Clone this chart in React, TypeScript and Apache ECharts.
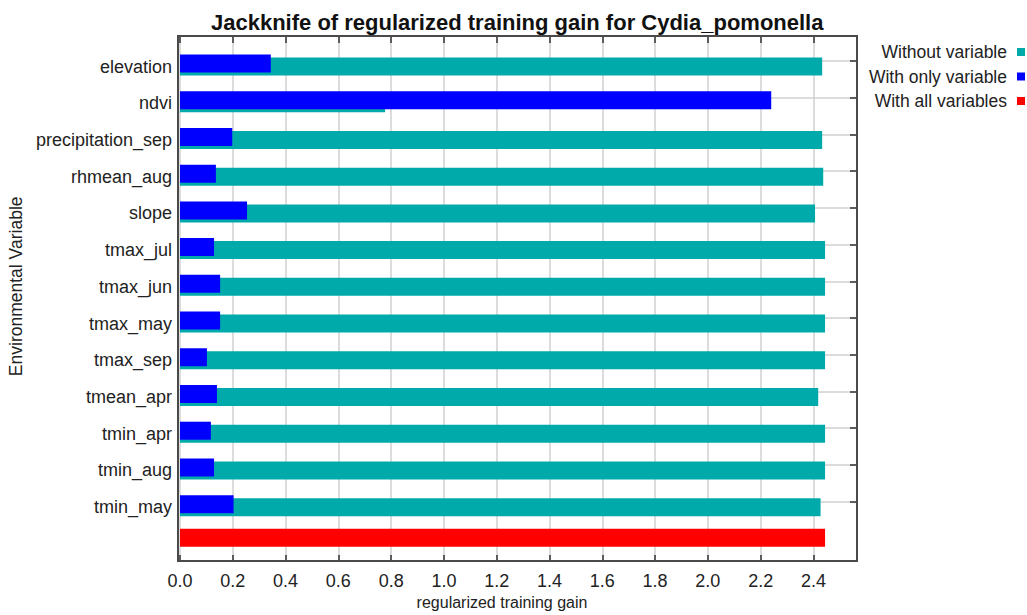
import React, { useEffect, useRef } from "react";
import * as echarts from "echarts";

const variables = [
  "elevation",
  "ndvi",
  "precipitation_sep",
  "rhmean_aug",
  "slope",
  "tmax_jul",
  "tmax_jun",
  "tmax_may",
  "tmax_sep",
  "tmean_apr",
  "tmin_apr",
  "tmin_aug",
  "tmin_may",
];
const withoutVariable = [2.433, 0.777, 2.433, 2.437, 2.406, 2.444, 2.444, 2.444, 2.444, 2.418, 2.444, 2.444, 2.427];
const withOnlyVariable = [0.344, 2.24, 0.198, 0.136, 0.254, 0.129, 0.152, 0.152, 0.102, 0.14, 0.117, 0.129, 0.203];
const withAllVariables = 2.444;

const X_MIN = 0;
const X_MAX = 2.565;
const X_STEP = 0.2;

const FONT = "'Liberation Sans', Arial, Helvetica, sans-serif";
const TEXT = "#222222";

export default function App() {
  const ref = useRef<HTMLDivElement>(null);
  useEffect(() => {
    if (!ref.current) return;
    const chart = echarts.init(ref.current, undefined, { renderer: "svg" });
    const barCats = [...variables, ""];
    const blueData = [...withOnlyVariable, "-"];
    const tealData = [...withoutVariable, "-"];
    const redData = [...variables.map(() => "-"), withAllVariables];
    const grid = (top: number, height: number) => ({
      left: 180,
      width: 677,
      top,
      height,
      containLabel: false,
      outerBoundsMode: "none",
    });
    const hiddenX = (gridIndex: number) => ({
      type: "value",
      gridIndex,
      min: X_MIN,
      max: X_MAX,
      interval: X_STEP,
      show: false,
    });
    const option: any = {
      animation: false,
      backgroundColor: "#ffffff",
      textStyle: { fontFamily: FONT },
      title: {
        text: "Jackknife of regularized training gain for Cydia_pomonella",
        left: 211,
        top: 11,
        padding: 0,
        textStyle: { fontFamily: FONT, fontSize: 22, fontWeight: "bold", color: "#111111" },
      },
      legend: {
        data: ["Without variable", "With only variable", "With all variables"],
        orient: "vertical",
        right: 2,
        top: 43,
        align: "right",
        padding: 0,
        itemWidth: 8,
        itemHeight: 8,
        itemGap: 6.5,
        icon: "rect",
        selectedMode: false,
        textStyle: { fontFamily: FONT, fontSize: 17.5, color: TEXT, padding: [0, 5, 0, 0] },
      },
      grid: [grid(36, 525), grid(61, 440.64), grid(45.14, 514.08)],
      xAxis: [
        {
          type: "value",
          gridIndex: 0,
          min: X_MIN,
          max: X_MAX,
          interval: X_STEP,
          axisLine: { show: false },
          axisTick: { show: true, inside: true, length: 6, lineStyle: { color: "#333333", width: 1.5 } },
          splitLine: { show: true, lineStyle: { color: "#d0d0d0", width: 1.5 } },
          axisLabel: {
            show: true,
            fontFamily: FONT,
            fontSize: 18,
            color: TEXT,
            margin: 11,
            showMaxLabel: false,
            formatter: (v: number) => v.toFixed(1),
          },
          name: "regularized training gain",
          nameLocation: "middle",
          nameGap: 33,
          nameTextStyle: { fontFamily: FONT, fontSize: 16, color: TEXT, padding: [0, 33, 0, 0] },
        },
        {
          type: "value",
          gridIndex: 0,
          position: "top",
          min: X_MIN,
          max: X_MAX,
          interval: X_STEP,
          axisLine: { show: false },
          axisTick: { show: true, inside: true, length: 7, lineStyle: { color: "#333333", width: 1.5 } },
          splitLine: { show: false },
          axisLabel: { show: false },
        },
        hiddenX(1),
        hiddenX(2),
      ],
      yAxis: [
        { type: "value", gridIndex: 0, show: false, min: 0, max: 1 },
        {
          type: "category",
          gridIndex: 1,
          data: variables,
          inverse: true,
          boundaryGap: false,
          axisLine: { show: false },
          axisTick: { show: true, inside: true, length: 2, lineStyle: { color: "#333333", width: 1.5 } },
          splitLine: { show: true, lineStyle: { color: "#d0d0d0", width: 1.5 } },
          axisLabel: {
            show: true,
            fontFamily: FONT,
            fontSize: 18,
            color: TEXT,
            margin: 8,
            verticalAlign: "top",
            lineHeight: 11,
          },
          name: "Environmental Variable",
          nameLocation: "middle",
          nameRotate: 90,
          nameGap: 152,
          nameTextStyle: { fontFamily: FONT, fontSize: 17.5, color: TEXT, padding: [0, 10, 0, 0] },
        },
        {
          type: "category",
          gridIndex: 1,
          position: "right",
          data: variables,
          inverse: true,
          boundaryGap: false,
          axisLine: { show: false },
          axisTick: { show: true, inside: true, length: 7, lineStyle: { color: "#333333", width: 1.5 } },
          splitLine: { show: false },
          axisLabel: { show: false },
        },
        { type: "category", gridIndex: 2, data: barCats, inverse: true, show: false },
      ],
      series: [
        {
          name: "With all variables",
          type: "bar",
          xAxisIndex: 3,
          yAxisIndex: 3,
          data: redData,
          barWidth: 18,
          barGap: "-83.33%",
          itemStyle: { color: "#ff0000" },
          z: 2,
        },
        {
          name: "With only variable",
          type: "bar",
          xAxisIndex: 3,
          yAxisIndex: 3,
          data: blueData,
          barWidth: 18,
          barGap: "-83.33%",
          itemStyle: { color: "#0000ff" },
          z: 4,
        },
        {
          name: "Without variable",
          type: "bar",
          xAxisIndex: 3,
          yAxisIndex: 3,
          data: tealData,
          barWidth: 18,
          barGap: "-83.33%",
          itemStyle: { color: "#00aaaa" },
          z: 3,
        },
      ],
      graphic: [
        {
          type: "rect",
          silent: true,
          z: 10,
          shape: { x: 178, y: 36, width: 679, height: 525 },
          style: { fill: "none", stroke: "#4a4a4a", lineWidth: 2 },
        },
      ],
    };
    chart.setOption(option);
    return () => chart.dispose();
  }, []);
  return (
    <div
      ref={ref}
      style={{ position: "fixed", left: 0, top: 0, width: 1027, height: 615, background: "#fff" }}
    />
  );
}
